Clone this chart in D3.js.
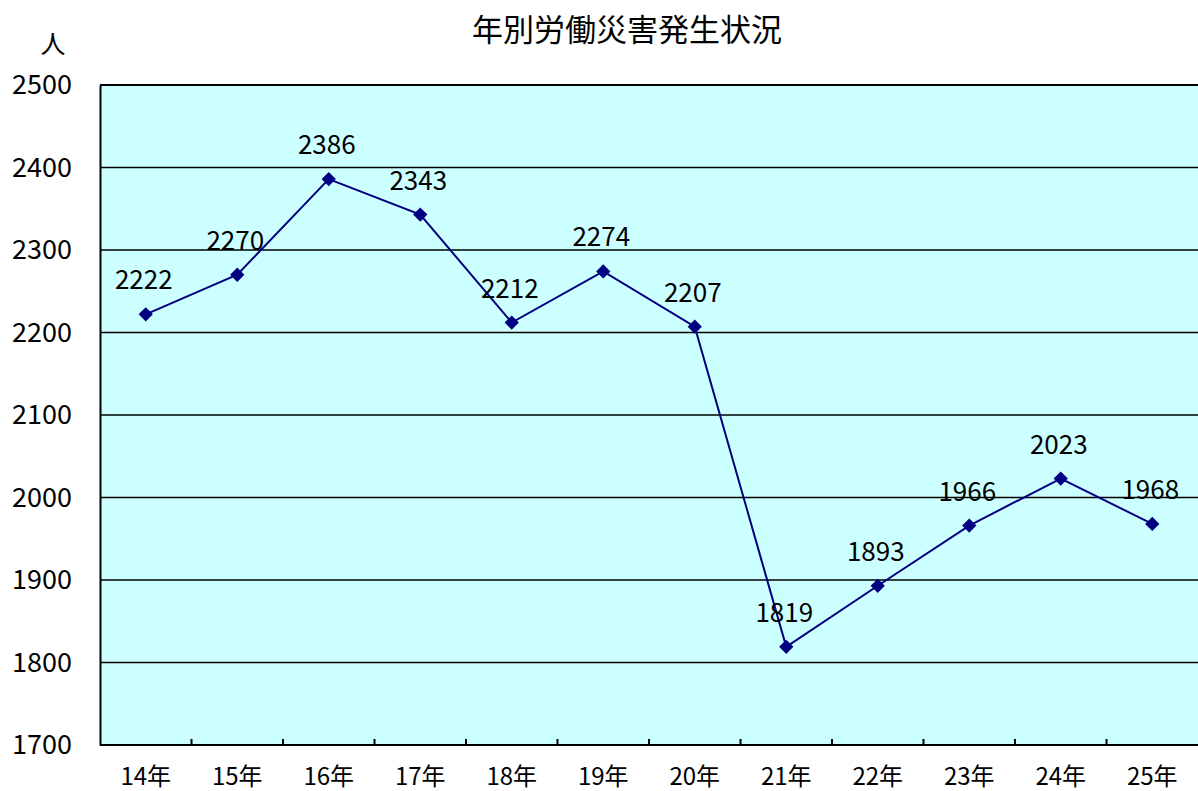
<!DOCTYPE html>
<html>
<head>
<meta charset="utf-8">
<script src="https://cdn.jsdelivr.net/npm/d3@7"></script>
<style>
body { margin: 0; background: #fff; overflow: hidden; }
svg { display: block; }
text { font-family: "Noto Sans CJK JP", "DejaVu Sans", sans-serif; fill: #000; }
</style>
</head>
<body>
<script>
var years = ['14年', '15年', '16年', '17年', '18年', '19年', '20年', '21年', '22年', '23年', '24年', '25年'];
var injuries = [2222, 2270, 2386, 2343, 2212, 2274, 2207, 1819, 1893, 1966, 2023, 1968];
var yTicks = [1700, 1800, 1900, 2000, 2100, 2200, 2300, 2400, 2500];

var width = 1198, height = 791;
var margin = {top: 85, right: 0, bottom: 46, left: 100};
var innerWidth = width - margin.left - margin.right;
var innerHeight = height - margin.top - margin.bottom;

var svg = d3.select('body').append('svg')
	.attr('width', width)
	.attr('height', height);

var inner = svg.append('g')
	.attr('transform', 'translate(' + margin.left + ',' + margin.top + ')');

var xScale = d3.scaleBand().domain(years).range([0, innerWidth]);
var yScale = d3.scaleLinear().domain([1700, 2500]).range([innerHeight, 0]);

//Plot area background.
inner.append('rect')
	.attr('width', innerWidth)
	.attr('height', innerHeight)
	.style('fill', '#ccffff');

//Horizontal gridlines.
inner.selectAll('.grid').data(yTicks.slice(1, -1)).enter().append('line')
	.attr('class', 'grid')
	.attr('x1', 0).attr('x2', innerWidth)
	.attr('y1', function(d) { return yScale(d); })
	.attr('y2', function(d) { return yScale(d); })
	.style('stroke', '#000')
	.style('stroke-width', '1.5px');

//Top border of plot area.
inner.append('line')
	.attr('x1', 0).attr('x2', innerWidth)
	.attr('y1', 0).attr('y2', 0)
	.style('stroke', '#000')
	.style('stroke-width', '2px');

//Y axis: labels only, no ticks.
var yAxis = inner.append('g').attr('class', 'axis')
	.call(d3.axisLeft(yScale).tickValues(yTicks).tickSize(0).tickPadding(28).tickFormat(d3.format('d')));
yAxis.select('.domain').style('stroke', '#000').style('stroke-width', '2px');
yAxis.selectAll('text').style('font-size', '27px').style('font-family', null);

//X axis: ticks between categories pointing inward.
var bounds = d3.range(years.length + 1).map(function(i) { return i * xScale.step(); });
inner.selectAll('.xtick').data(bounds.slice(1, -1)).enter().append('line')
	.attr('class', 'xtick')
	.attr('x1', function(d) { return d; }).attr('x2', function(d) { return d; })
	.attr('y1', innerHeight).attr('y2', innerHeight - 6)
	.style('stroke', '#000')
	.style('stroke-width', '2px');
inner.append('line')
	.attr('x1', 0).attr('x2', innerWidth)
	.attr('y1', innerHeight).attr('y2', innerHeight)
	.style('stroke', '#000')
	.style('stroke-width', '2px');
inner.selectAll('.xlabel').data(years).enter().append('text')
	.attr('class', 'xlabel')
	.attr('x', function(d) { return xScale(d) + xScale.bandwidth() / 2; })
	.attr('y', innerHeight + 40)
	.attr('text-anchor', 'middle')
	.style('font-size', '24px')
	.text(function(d) { return d; });

//Data line.
var line = d3.line()
	.x(function(d, i) { return xScale(years[i]) + xScale.bandwidth() / 2; })
	.y(function(d) { return yScale(d); });
inner.append('path')
	.datum(injuries)
	.attr('d', line)
	.style('fill', 'none')
	.style('stroke', '#000080')
	.style('stroke-width', '2px');

//Diamond markers.
var diamond = d3.symbol().type(d3.symbolDiamond2).size(130);
inner.selectAll('.marker').data(injuries).enter().append('path')
	.attr('class', 'marker')
	.attr('d', diamond)
	.attr('transform', function(d, i) {
		return 'translate(' + (xScale(years[i]) + xScale.bandwidth() / 2) + ',' + yScale(d) + ')';
	})
	.style('fill', '#000080');

//Value labels above points.
inner.selectAll('.vlabel').data(injuries).enter().append('text')
	.attr('class', 'vlabel')
	.attr('x', function(d, i) { return xScale(years[i]) + xScale.bandwidth() / 2 - 2; })
	.attr('y', function(d) { return yScale(d) - 25; })
	.attr('text-anchor', 'middle')
	.style('font-size', '26px')
	.text(function(d) { return d; });

//Title and unit.
svg.append('text')
	.attr('x', 627).attr('y', 41)
	.attr('text-anchor', 'middle')
	.style('font-size', '31px')
	.text('年別労働災害発生状況');
svg.append('text')
	.attr('x', 53).attr('y', 53)
	.attr('text-anchor', 'middle')
	.style('font-size', '25px')
	.text('人');
</script>
</body>
</html>
